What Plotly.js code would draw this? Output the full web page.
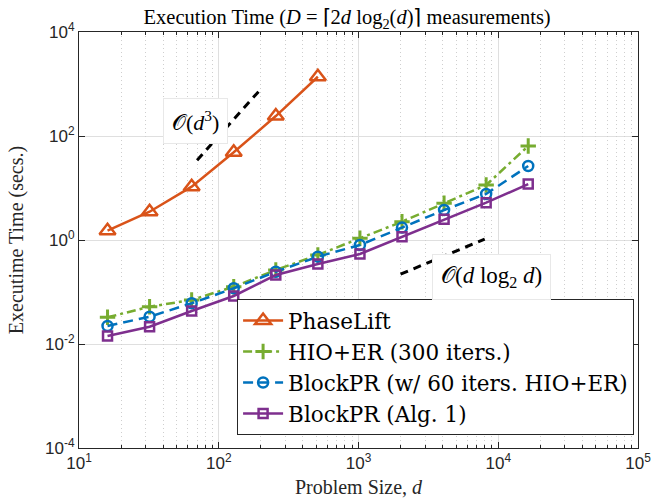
<!DOCTYPE html>
<html>
<head>
<meta charset="utf-8">
<script src="https://cdn.plot.ly/plotly-3.0.1.min.js"></script>
<style>
  html, body { margin: 0; padding: 0; background: #ffffff; }
  #chart { width: 655px; height: 503px; }
</style>
</head>
<body>
<div id="chart"></div>
<script>
// ---- data ----
const problemSize = [16, 32, 64, 128, 256, 512, 1024, 2048, 4096, 8192, 16384];
const phaseLiftSize = [16, 32, 64, 128, 256, 512];
const phaseLift = [1.51, 3.50, 10.6, 48.6, 242, 1380];
const hioEr = [0.0326, 0.0521, 0.0702, 0.1265, 0.265, 0.515, 1.08, 2.25, 5.08, 11.4, 64.2];
const blockPrHio = [0.0222, 0.0335, 0.0607, 0.118, 0.245, 0.478, 0.80, 1.73, 3.77, 7.67, 26.5];
const blockPrAlg1 = [0.0143, 0.0215, 0.0431, 0.0838, 0.212, 0.345, 0.538, 1.16, 2.50, 5.21, 11.9];
// guide lines
const cubeGuideX = [70, 200];
const cubeGuideY = [34.3, 800];
const nlogGuideX = [2000, 8000];
const nlogGuideY = [0.22, 1.04];
// labels
const seriesNames = ['PhaseLift', 'HIO+ER (300 iters.)', 'BlockPR (w/ 60 iters. HIO+ER)', 'BlockPR (Alg. 1)'];
const xTickVals = [10, 100, 1000, 10000, 100000];
const xTickText = ['10<sup>1</sup>', '10<sup>2</sup>', '10<sup>3</sup>', '10<sup>4</sup>', '10<sup>5</sup>'];
const yTickVals = [1e-4, 1e-2, 1, 1e2, 1e4];
const yTickText = ['10<sup>-4</sup>', '10<sup>-2</sup>', '10<sup>0</sup>', '10<sup>2</sup>', '10<sup>4</sup>'];

const serif = 'Liberation Serif';
const legendSerif = 'DejaVu Serif';
const sans = 'Liberation Sans';
const ink = '#262626';

// minor tick positions (2..9 per decade)
const minorX = [];
for (let e = 1; e < 5; e++) for (let k = 2; k <= 9; k++) minorX.push(k * Math.pow(10, e));

const traces = [
  { x: phaseLiftSize, y: phaseLift, name: seriesNames[0], mode: 'lines+markers',
    line: { color: '#D95319', width: 2.5 },
    marker: { symbol: 'triangle-up-open', size: 14, color: '#D95319', line: { width: 2.5, color: '#D95319' } } },
  { x: problemSize, y: hioEr, name: seriesNames[1], mode: 'lines+markers',
    line: { color: '#77AC30', width: 2.5, dash: '9px,4px,3px,4px' },
    marker: { symbol: 'cross-thin-open', size: 11, color: '#77AC30', line: { width: 3, color: '#77AC30' } } },
  { x: problemSize, y: blockPrHio, name: seriesNames[2], mode: 'lines+markers',
    line: { color: '#0072BD', width: 2.5, dash: '10px,6px' },
    marker: { symbol: 'circle-open', size: 10, color: '#0072BD', line: { width: 2.5, color: '#0072BD' } } },
  { x: problemSize, y: blockPrAlg1, name: seriesNames[3], mode: 'lines+markers',
    line: { color: '#7E2F8E', width: 2.5 },
    marker: { symbol: 'square-open', size: 9, color: '#7E2F8E', line: { width: 2.5, color: '#7E2F8E' } } },
  { x: cubeGuideX, y: cubeGuideY, mode: 'lines', showlegend: false, hoverinfo: 'skip',
    line: { color: '#000000', width: 3, dash: '8px,6px' } },
  { x: nlogGuideX, y: nlogGuideY, mode: 'lines', showlegend: false, hoverinfo: 'skip',
    line: { color: '#000000', width: 3, dash: '8px,6px' } },
  // invisible trace to activate minor x axis
  { x: [minorX[0]], y: [1], xaxis: 'x2', yaxis: 'y', mode: 'markers', showlegend: false,
    hoverinfo: 'skip', marker: { opacity: 0 } }
];

const layout = {
  width: 655, height: 503,
  margin: { l: 79, r: 17, t: 32, b: 55 },
  paper_bgcolor: '#ffffff', plot_bgcolor: '#ffffff',
  font: { family: serif, color: '#000000' },
  showlegend: true,
  title: {
    text: 'Execution Time (<i>D</i> = ⌈2<i>d</i> log<sub>2</sub>(<i>d</i>)⌉ measurements)',
    font: { family: serif, size: 20.5, color: '#000000' },
    x: 0.53, xanchor: 'center', y: 0.966, yanchor: 'middle'
  },
  xaxis: {
    type: 'log', range: [1, 5],
    tickvals: xTickVals, ticktext: xTickText,
    tickfont: { family: sans, size: 17, color: ink },
    ticks: 'inside', ticklen: 6, tickcolor: ink, tickwidth: 1,
    showline: true, linecolor: ink, linewidth: 1, mirror: 'ticks',
    showgrid: true, gridcolor: '#dfdfdf', gridwidth: 1,
    zeroline: false,
    title: { text: 'Problem Size, <i>d</i>', font: { family: serif, size: 20, color: ink }, standoff: 7 }
  },
  xaxis2: {
    type: 'log', range: [1, 5], overlaying: 'x', side: 'bottom',
    tickvals: minorX, showticklabels: false,
    ticks: 'inside', ticklen: 3, tickcolor: ink, tickwidth: 1,
    mirror: 'ticks', showline: false,
    showgrid: true, gridcolor: '#cfcfcf', gridwidth: 1, griddash: '1px,3px',
    zeroline: false
  },
  yaxis: {
    type: 'log', range: [-4, 4],
    tickvals: yTickVals, ticktext: yTickText,
    tickfont: { family: sans, size: 17, color: ink },
    ticks: 'inside', ticklen: 6, tickcolor: ink, tickwidth: 1,
    showline: true, linecolor: ink, linewidth: 1, mirror: 'ticks',
    showgrid: true, gridcolor: '#dfdfdf', gridwidth: 1,
    zeroline: false,
    title: { text: 'Executime Time (secs.)', font: { family: serif, size: 20, color: ink }, standoff: 16 }
  },
  legend: {
    x: 0.993, xanchor: 'right', y: 0.031, yanchor: 'bottom',
    bgcolor: '#ffffff', bordercolor: ink, borderwidth: 1,
    font: { family: legendSerif, size: 21.5, color: '#000000' },
    tracegroupgap: 0, itemwidth: 40
  },
  annotations: [
    { xref: 'x', yref: 'y', x: Math.log10(68.7), y: 2.288,
      text: '𝒪(<i>d</i><sup>3</sup>)', showarrow: false,
      font: { family: serif, size: 22, color: '#000000' },
      bgcolor: '#ffffff', bordercolor: '#e8e8e8', borderwidth: 1, borderpad: 8 },
    { xref: 'x', yref: 'y', x: Math.log10(9000), y: -0.712,
      text: '𝒪(<i>d</i> log<sub>2</sub> <i>d</i>)', showarrow: false,
      font: { family: serif, size: 23, color: '#000000' },
      bgcolor: '#ffffff', bordercolor: '#e8e8e8', borderwidth: 1, borderpad: 8 }
  ]
};

Plotly.newPlot('chart', traces, layout, { staticPlot: true, displayModeBar: false });
</script>
</body>
</html>
